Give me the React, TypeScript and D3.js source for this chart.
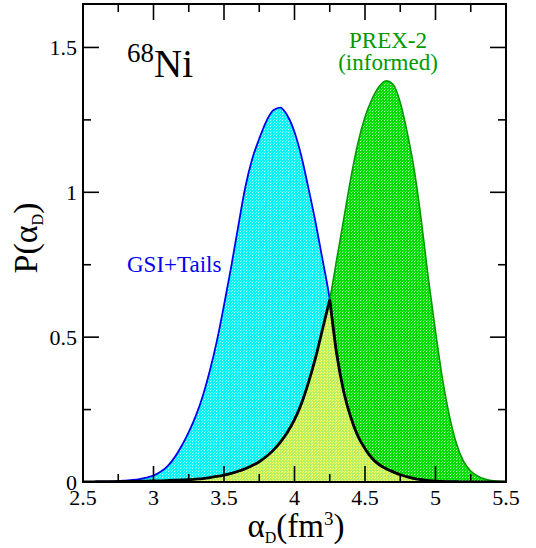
import React from "react";
import * as d3 from "d3";

// Polarizability grid (fm^3) shared by both distributions
const alpha = [
  2.5, 2.55, 2.6, 2.65, 2.7, 2.75, 2.8, 2.85, 2.9, 2.95,
  3.0, 3.05, 3.1, 3.15, 3.2, 3.25, 3.3, 3.35, 3.4, 3.45,
  3.5, 3.55, 3.6, 3.65, 3.7, 3.75, 3.8, 3.85, 3.9, 3.95,
  4.0, 4.05, 4.1, 4.15, 4.2, 4.25, 4.3, 4.35, 4.4, 4.45,
  4.5, 4.55, 4.6, 4.65, 4.7, 4.75, 4.8, 4.85, 4.9, 4.95,
  5.0, 5.05, 5.1, 5.15, 5.2, 5.25, 5.3, 5.35, 5.4, 5.45, 5.5,
];

// P(alpha_D) from GSI data + tails
const pGsiTails = [
  0.0, 0.0, 0.001, 0.001, 0.002, 0.003, 0.005, 0.007, 0.01, 0.015,
  0.022, 0.035, 0.055, 0.085, 0.125, 0.172, 0.228, 0.298, 0.385, 0.488,
  0.61, 0.74, 0.88, 1.015, 1.115, 1.185, 1.245, 1.283, 1.292, 1.264,
  1.208, 1.122, 1.012, 0.895, 0.765, 0.63, 0.44, 0.31, 0.222, 0.158,
  0.115, 0.082, 0.06, 0.046, 0.035, 0.025, 0.018, 0.012, 0.008, 0.005,
  0.003, 0.002, 0.001, 0.001, 0.0, 0.0, 0.0, 0.0, 0.0, 0.0, 0.0,
];

// P(alpha_D) informed by PREX-2
const pPrex2 = [
  0.0, 0.0, 0.001, 0.001, 0.001, 0.002, 0.002, 0.002, 0.003, 0.003,
  0.004, 0.004, 0.005, 0.006, 0.007, 0.008, 0.01, 0.012, 0.015, 0.019,
  0.024, 0.03, 0.037, 0.046, 0.057, 0.07, 0.088, 0.11, 0.138, 0.172,
  0.215, 0.272, 0.345, 0.43, 0.53, 0.63, 0.77, 0.91, 1.05, 1.17,
  1.26, 1.322, 1.365, 1.385, 1.372, 1.31, 1.205, 1.075, 0.9, 0.7,
  0.52, 0.355, 0.225, 0.13, 0.07, 0.038, 0.02, 0.01, 0.005, 0.002, 0.001,
];

const xMajorTicks = [2.5, 3, 3.5, 4, 4.5, 5, 5.5];
const xTickLabels = ["2.5", "3", "3.5", "4", "4.5", "5", "5.5"];
const xMinorTicks = [2.75, 3.25, 3.75, 4.25, 4.75, 5.25];
const yMajorTicks = [0, 0.5, 1, 1.5];
const yTickLabels = ["0", "0.5", "1", "1.5"];
const yMinorTicks = [0.25, 0.75, 1.25];

const W = 536;
const H = 548;
const plot = { left: 83, right: 506, top: 4, bottom: 482 };
const serif = "'Liberation Serif', 'Times New Roman', serif";

export default function App() {
  const x = d3.scaleLinear().domain([2.5, 5.5]).range([plot.left, plot.right]);
  const y = d3.scaleLinear().domain([0, 1.65]).range([plot.bottom, plot.top]);

  const gsiPts: [number, number][] = alpha.map((a, i) => [a, pGsiTails[i]]);
  const prexPts: [number, number][] = alpha.map((a, i) => [a, pPrex2[i]]);
  const overlapPts: [number, number][] = alpha.map((a, i) => [a, Math.min(pGsiTails[i], pPrex2[i])]);

  const line = d3
    .line<[number, number]>()
    .x((d) => x(d[0]))
    .y((d) => y(d[1]))
    .curve(d3.curveMonotoneX);
  const area = d3
    .area<[number, number]>()
    .x((d) => x(d[0]))
    .y0(y(0))
    .y1((d) => y(d[1]))
    .curve(d3.curveMonotoneX);

  // The overlap curve has a cusp where the two distributions cross;
  // draw each side separately so the corner stays sharp.
  const k = d3.maxIndex(overlapPts, (d) => d[1]);
  const leftD = line(overlapPts.slice(0, k + 1)) || "";
  const rightD = (line(overlapPts.slice(k)) || "").replace(/^M[^A-Za-z]*/, "");
  const overlapLine = leftD + rightD;
  const overlapArea =
    overlapLine + `L${x(5.5)},${y(0)}L${x(2.5)},${y(0)}Z`;

  const majorLen = 16;
  const minorLen = 8;

  return (
    <svg
      width={W}
      height={H}
      style={{ position: "absolute", left: 0, top: 0, background: "#fff" }}
    >
      <defs>
        <pattern id="cyanFill" width={3} height={3} patternUnits="userSpaceOnUse">
          <rect width={3} height={3} fill="#00f4f4" />
          <rect x={0} y={0} width={1} height={1} fill="#ffffff" opacity={0.8} />
          <rect x={1} y={2} width={1} height={1} fill="#b0ffff" opacity={0.7} />
        </pattern>
        <pattern id="greenFill" width={3} height={3} patternUnits="userSpaceOnUse">
          <rect width={3} height={3} fill="#00dc00" />
          <rect x={0} y={0} width={1} height={1} fill="#ffffff" opacity={0.75} />
          <rect x={1} y={2} width={1} height={1} fill="#90ff90" opacity={0.6} />
        </pattern>
        <pattern id="overlapFill" width={3} height={3} patternUnits="userSpaceOnUse">
          <rect width={3} height={3} fill="#c4f058" />
          <rect x={0} y={0} width={1} height={1} fill="#ffff90" />
          <rect x={2} y={1} width={1} height={1} fill="#ffff50" />
          <rect x={1} y={2} width={1} height={1} fill="#80f0a0" opacity={0.6} />
        </pattern>
        <clipPath id="plotClip">
          <rect
            x={plot.left}
            y={plot.top}
            width={plot.right - plot.left}
            height={plot.bottom - plot.top}
          />
        </clipPath>
      </defs>

      <g clipPath="url(#plotClip)">
        <path d={area(gsiPts) || ""} fill="url(#cyanFill)" />
        <path d={area(prexPts) || ""} fill="url(#greenFill)" />
        <path d={overlapArea} fill="url(#overlapFill)" />
        <path d={line(gsiPts) || ""} fill="none" stroke="#0000f0" strokeWidth={1.8} />
        <path d={line(prexPts) || ""} fill="none" stroke="#009a00" strokeWidth={1.6} />
        <path d={overlapLine} fill="none" stroke="#000" strokeWidth={2.8} strokeLinejoin="miter" />
      </g>

      {/* frame */}
      <rect
        x={plot.left}
        y={plot.top}
        width={plot.right - plot.left}
        height={plot.bottom - plot.top}
        fill="none"
        stroke="#000"
        strokeWidth={2}
      />

      {/* x ticks, bottom and top; y ticks, left and right */}
      <g stroke="#000" strokeWidth={1.6}>
        {xMajorTicks.map((t) => (
          <g key={`xM${t}`}>
            <line x1={x(t)} x2={x(t)} y1={plot.bottom} y2={plot.bottom - majorLen} />
            <line x1={x(t)} x2={x(t)} y1={plot.top} y2={plot.top + majorLen} />
          </g>
        ))}
        {xMinorTicks.map((t) => (
          <g key={`xm${t}`}>
            <line x1={x(t)} x2={x(t)} y1={plot.bottom} y2={plot.bottom - minorLen} />
            <line x1={x(t)} x2={x(t)} y1={plot.top} y2={plot.top + minorLen} />
          </g>
        ))}
        {yMajorTicks.map((t) => (
          <g key={`yM${t}`}>
            <line x1={plot.left} x2={plot.left + majorLen} y1={y(t)} y2={y(t)} />
            <line x1={plot.right} x2={plot.right - majorLen} y1={y(t)} y2={y(t)} />
          </g>
        ))}
        {yMinorTicks.map((t) => (
          <g key={`ym${t}`}>
            <line x1={plot.left} x2={plot.left + minorLen} y1={y(t)} y2={y(t)} />
            <line x1={plot.right} x2={plot.right - minorLen} y1={y(t)} y2={y(t)} />
          </g>
        ))}
      </g>

      {/* tick labels */}
      <g fontFamily={serif} fontSize={22} fill="#000">
        {xMajorTicks.map((t, i) => (
          <text key={`xl${t}`} x={x(t)} y={plot.bottom + 23} textAnchor="middle">
            {xTickLabels[i]}
          </text>
        ))}
        {yMajorTicks.map((t, i) => (
          <text key={`yl${t}`} x={plot.left - 6} y={y(t) + 8} textAnchor="end">
            {yTickLabels[i]}
          </text>
        ))}
      </g>

      {/* axis titles */}
      <text x={296} y={537} textAnchor="middle" fontFamily={serif} fontSize={33} fill="#000">
        α<tspan fontSize={16} dy={6}>D</tspan>
        <tspan dy={-6}>(fm</tspan>
        <tspan fontSize={19} dy={-12}>3</tspan>
        <tspan dy={12}>)</tspan>
      </text>
      <text
        transform="translate(37,238) rotate(-90)"
        textAnchor="middle"
        fontFamily={serif}
        fontSize={34}
        fill="#000"
      >
        P(α<tspan fontSize={16} dy={6}>D</tspan>
        <tspan dy={-6}>)</tspan>
      </text>

      {/* annotations */}
      <text fontFamily={serif} fill="#000">
        <tspan x={127} y={62} fontSize={27}>68</tspan>
        <tspan y={77} fontSize={39}>Ni</tspan>
      </text>
      <text fontFamily={serif} fontSize={23} fill="#009a00" textAnchor="middle">
        <tspan x={388} y={48}>PREX-2</tspan>
        <tspan x={388} y={70}>(informed)</tspan>
      </text>
      <text x={127} y={272} fontFamily={serif} fontSize={23} fill="#0000ee">
        GSI+Tails
      </text>
    </svg>
  );
}
